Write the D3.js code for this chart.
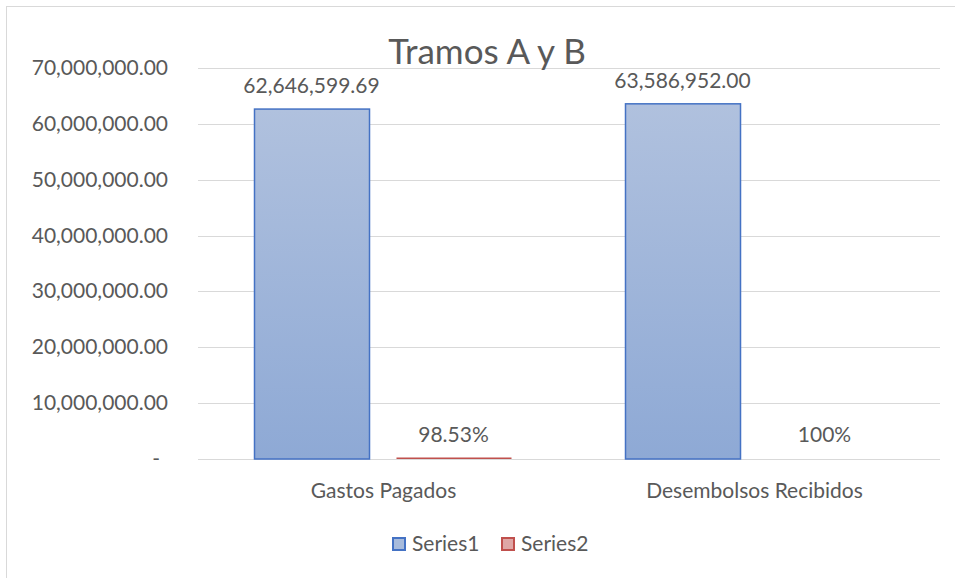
<!DOCTYPE html>
<html>
<head>
<meta charset="utf-8">
<script src="https://cdn.jsdelivr.net/npm/d3@7"></script>
<style>
  body { margin: 0; background: #fff; }
  text { font-family: Lato, "Open Sans", sans-serif; fill: #595959; }
</style>
</head>
<body>
<div id="chart"></div>
<script>
// Data
const categories = ["Gastos Pagados", "Desembolsos Recibidos"];
const seriesNames = ["Series1", "Series2"];
const series1 = [62646599.69, 63586952.00];
const series2 = [0.9853, 1];
const series1Labels = ["62,646,599.69", "63,586,952.00"];
const series2Labels = ["98.53%", "100%"];
const yTicks = [0, 10000000, 20000000, 30000000, 40000000, 50000000, 60000000, 70000000];

const width = 955, height = 578;
const plotLeft = 198, plotRight = 940, plotTop = 68, plotBottom = 459;

const svg = d3.select("#chart").append("svg")
  .attr("width", width)
  .attr("height", height);

// gradient for series1 bars
const defs = svg.append("defs");
const grad = defs.append("linearGradient")
  .attr("id", "blueGrad")
  .attr("x1", 0).attr("y1", 0).attr("x2", 0).attr("y2", 1);
grad.append("stop").attr("offset", "0%").attr("stop-color", "#b0c1de");
grad.append("stop").attr("offset", "100%").attr("stop-color", "#8ea9d5");

// outer border
svg.append("rect")
  .attr("x", 6.5).attr("y", 6.5)
  .attr("width", 960).attr("height", 590)
  .attr("fill", "none")
  .attr("stroke", "#d9d9d9")
  .attr("stroke-width", 1);

// Scales
const y = d3.scaleLinear().domain([0, 70000000]).range([plotBottom, plotTop]);
const x0 = d3.scaleBand().domain(categories).range([plotLeft, plotRight]);
const x1 = d3.scaleBand().domain(seriesNames)
  .range([56, x0.bandwidth() - 58])
  .paddingInner(0.19);

// Gridlines
svg.append("g")
  .selectAll("line")
  .data(yTicks)
  .join("line")
  .attr("x1", plotLeft).attr("x2", plotRight)
  .attr("y1", d => Math.round(y(d)) + 0.5)
  .attr("y2", d => Math.round(y(d)) + 0.5)
  .attr("stroke", "#d9d9d9")
  .attr("stroke-width", 1);

// Y axis labels
svg.append("g")
  .selectAll("text")
  .data(yTicks)
  .join("text")
  .attr("x", d => d === 0 ? 160 : 168)
  .attr("y", d => y(d) + 7)
  .attr("text-anchor", "end")
  .style("font-size", "21px")
  .text(d => d === 0 ? "-" : d3.format(",.2f")(d));

// Bars
const groups = svg.append("g")
  .selectAll("g")
  .data(categories)
  .join("g")
  .attr("transform", d => `translate(${x0(d)},0)`);

groups.append("rect")
  .attr("x", d => x1("Series1") + 0.5)
  .attr("y", (d, i) => y(series1[i]))
  .attr("width", x1.bandwidth())
  .attr("height", (d, i) => plotBottom - y(series1[i]))
  .attr("fill", "url(#blueGrad)")
  .attr("stroke", "#4472c4")
  .attr("stroke-width", 1.5);

// series2 values are tiny: only a thin line shows on the baseline
groups.filter((d, i) => i === 0).append("rect")
  .attr("x", d => x1("Series2") + 0.5)
  .attr("y", (d, i) => y(series2[i]) - 1.5)
  .attr("width", x1.bandwidth())
  .attr("height", 1.5)
  .attr("fill", "#c0504d");

// Data labels
groups.append("text")
  .attr("x", x1("Series1") + x1.bandwidth() / 2)
  .attr("y", (d, i) => y(series1[i]) - 16)
  .attr("text-anchor", "middle")
  .style("font-size", "21px")
  .text((d, i) => series1Labels[i]);

groups.append("text")
  .attr("x", x1("Series2") + x1.bandwidth() / 2)
  .attr("y", (d, i) => y(series2[i]) - 17)
  .attr("text-anchor", "middle")
  .style("font-size", "21px")
  .text((d, i) => series2Labels[i]);

// Category labels
svg.append("g")
  .selectAll("text")
  .data(categories)
  .join("text")
  .attr("x", d => x0(d) + x0.bandwidth() / 2)
  .attr("y", 498)
  .attr("text-anchor", "middle")
  .style("font-size", "21px")
  .text(d => d);

// Title
svg.append("text")
  .attr("x", 487)
  .attr("y", 64)
  .attr("text-anchor", "middle")
  .style("font-size", "35px")
  .text("Tramos A y B");

// Legend
const legendX = [392, 501];
const legendFill = ["#a7bbdc", "#dfa7a6"];
const legendStroke = ["#4472c4", "#c0504d"];
const legend = svg.append("g")
  .selectAll("g")
  .data(seriesNames)
  .join("g")
  .attr("transform", (d, i) => `translate(${legendX[i]},537)`);
legend.append("rect")
  .attr("x", 1).attr("y", 1)
  .attr("width", 12).attr("height", 12)
  .attr("fill", (d, i) => legendFill[i])
  .attr("stroke", (d, i) => legendStroke[i])
  .attr("stroke-width", 2);
legend.append("text")
  .attr("x", 20)
  .attr("y", 14)
  .style("font-size", "21px")
  .text(d => d);
</script>
</body>
</html>
